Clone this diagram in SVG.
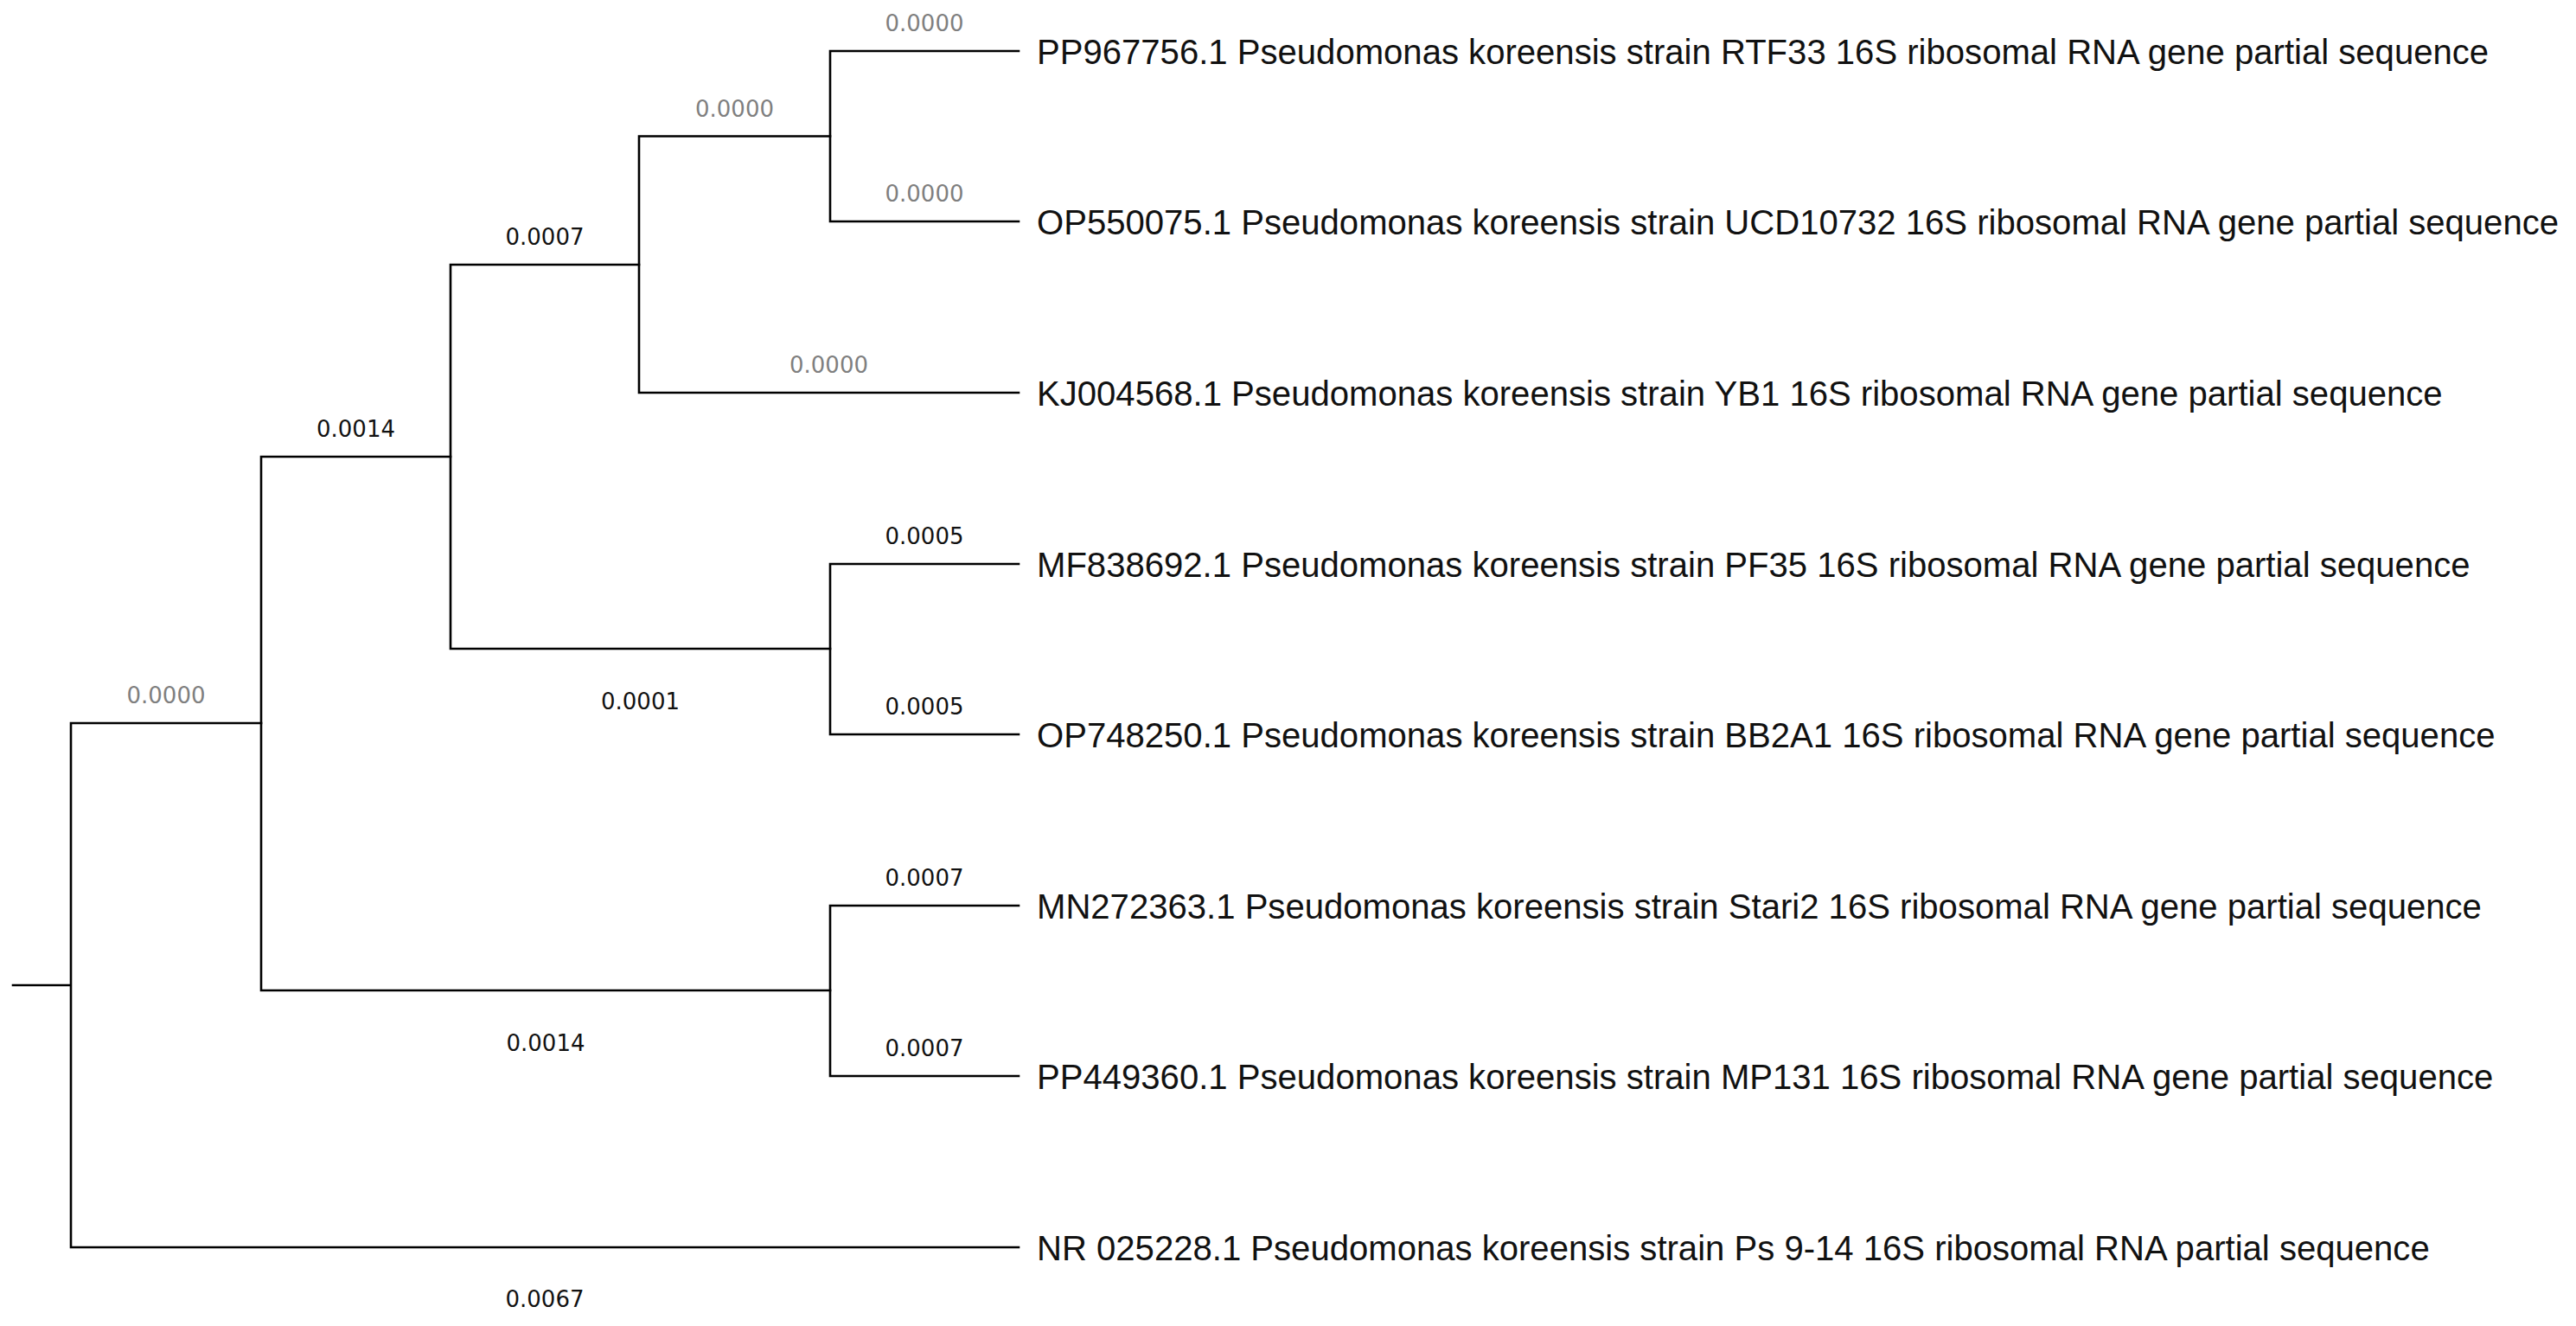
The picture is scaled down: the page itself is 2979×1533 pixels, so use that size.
<svg xmlns="http://www.w3.org/2000/svg" width="2979" height="1533" viewBox="0 0 2979 1533">
<style>
.br{fill:none;stroke:#000;stroke-width:2.6;stroke-linecap:square}
.leaf{font-family:"Liberation Sans",Arial,sans-serif;font-size:40.1px;fill:#111}
.bl{font-family:"DejaVu Sans",Verdana,sans-serif;font-size:26px;text-anchor:middle;fill:#111}
.z{fill:#7f7f7f}
</style>
<rect width="2979" height="1533" fill="#fff"/>
<g id="connectors">
<path class="br" d="M15 1139H82M82 836V1442M82 836H302M82 1442H1178"/>
<path class="br" d="M302 528V1145M302 528H521M302 1145H960"/>
<path class="br" d="M521 306V750M521 306H739M521 750H960"/>
<path class="br" d="M739 157.5V454M739 157.5H960M739 454H1178"/>
<path class="br" d="M960 59V256M960 59H1178M960 256H1178"/>
<path class="br" d="M960 652V849M960 652H1178M960 849H1178"/>
<path class="br" d="M960 1047V1244M960 1047H1178M960 1244H1178"/>
</g>
<g id="branch-labels">
<text class="bl z" x="192" y="813">0.0000</text>
<text class="bl" x="411.5" y="505">0.0014</text>
<text class="bl" x="630" y="283">0.0007</text>
<text class="bl z" x="849.5" y="134.5">0.0000</text>
<text class="bl z" x="1069" y="36">0.0000</text>
<text class="bl z" x="1069" y="233">0.0000</text>
<text class="bl z" x="958.5" y="431">0.0000</text>
<text class="bl" x="740.5" y="820">0.0001</text>
<text class="bl" x="1069" y="629">0.0005</text>
<text class="bl" x="1069" y="826">0.0005</text>
<text class="bl" x="631" y="1215">0.0014</text>
<text class="bl" x="1069" y="1024">0.0007</text>
<text class="bl" x="1069" y="1221">0.0007</text>
<text class="bl" x="630" y="1511">0.0067</text>
</g>
<g id="leaf-PP967756"><text class="leaf" x="1199" y="74">PP967756.1 Pseudomonas koreensis strain RTF33 16S ribosomal RNA gene partial sequence</text></g>
<g id="leaf-OP550075"><text class="leaf" x="1199" y="271">OP550075.1 Pseudomonas koreensis strain UCD10732 16S ribosomal RNA gene partial sequence</text></g>
<g id="leaf-KJ004568"><text class="leaf" x="1199" y="469">KJ004568.1 Pseudomonas koreensis strain YB1 16S ribosomal RNA gene partial sequence</text></g>
<g id="leaf-MF838692"><text class="leaf" x="1199" y="667">MF838692.1 Pseudomonas koreensis strain PF35 16S ribosomal RNA gene partial sequence</text></g>
<g id="leaf-OP748250"><text class="leaf" x="1199" y="864">OP748250.1 Pseudomonas koreensis strain BB2A1 16S ribosomal RNA gene partial sequence</text></g>
<g id="leaf-MN272363"><text class="leaf" x="1199" y="1062">MN272363.1 Pseudomonas koreensis strain Stari2 16S ribosomal RNA gene partial sequence</text></g>
<g id="leaf-PP449360"><text class="leaf" x="1199" y="1259">PP449360.1 Pseudomonas koreensis strain MP131 16S ribosomal RNA gene partial sequence</text></g>
<g id="leaf-NR025228"><text class="leaf" x="1199" y="1457">NR 025228.1 Pseudomonas koreensis strain Ps 9-14 16S ribosomal RNA partial sequence</text></g>
</svg>
